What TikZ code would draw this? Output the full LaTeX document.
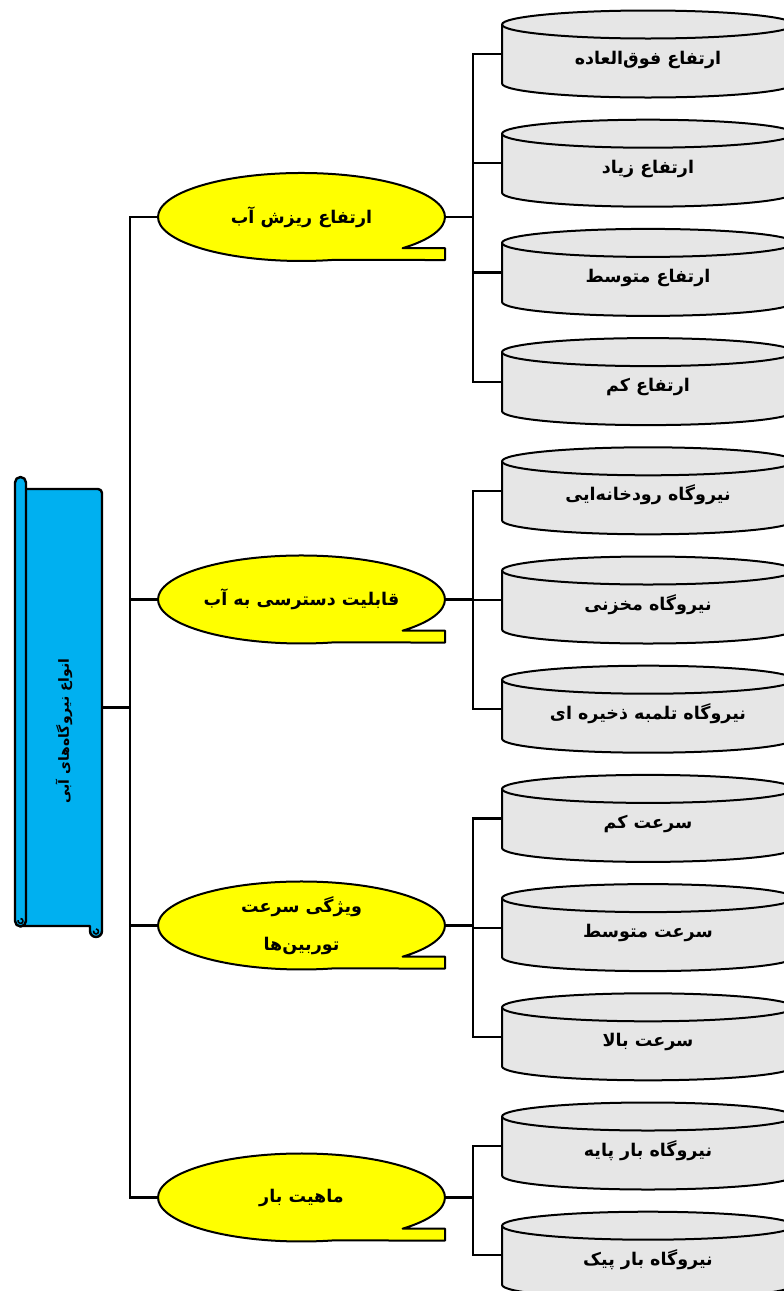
\documentclass[tikz,border=0pt]{standalone}
\usepackage{fontspec}
\newfontfamily\arabicfont[Script=Arabic]{DejaVu Sans}
\TeXXeTstate=1
\usetikzlibrary{shapes.geometric}
\definecolor{scrollblue}{HTML}{00B0F0}
\definecolor{cylgray}{HTML}{E6E6E6}
\definecolor{calloutyellow}{HTML}{FFFF00}

\tikzset{
  link/.style={draw=black, line width=2.2pt},
  outline/.style={draw=black, line width=2pt, line join=round},
  cyltext/.style={font=\arabicfont\bfseries\fontsize{17.5}{21}\selectfont,
    minimum width=292pt, minimum height=59pt, inner sep=0pt, outer sep=0pt},
  calltext/.style={shape=ellipse, font=\arabicfont\bfseries\fontsize{17.5}{21}\selectfont,
    minimum width=287pt, minimum height=88pt, inner sep=0pt, outer sep=0pt, align=center},
  roottext/.style={font=\arabicfont\bfseries\fontsize{14}{17}\selectfont, inner sep=0pt},
}

% cylinder: name, y of the top rim centre, label
\newcommand\cylinderbox[3]{%
  \pgfmathsetmacro\ct{#2}%
  \pgfmathsetmacro\cb{#2+59}%
  \pgfmathsetmacro\cm{#2+29.5}%
  \path[outline, fill=cylgray] (502,\ct) -- (502,\cb)
     arc[start angle=180, end angle=360, x radius=146pt, y radius=14pt]
     -- (794,\ct)
     arc[start angle=0, end angle=180, x radius=146pt, y radius=14pt] -- cycle;
  \draw[outline] (502,\ct) arc[start angle=180, end angle=360, x radius=146pt, y radius=14pt];
  \node[cyltext] (#1) at (648,\cm) {\raisebox{-10pt}[0pt][0pt]{#3}};
}

% oval callout with a flat tab at the lower right: name, centre y, label
\newcommand\calloutbox[3]{%
  \pgfmathsetmacro\ey{#2}%
  \path[outline, fill=calloutyellow] (445,\ey+43) -- (445,\ey+31.2) -- (402.6,\ey+31.2)
     arc[start angle=-45.2, end angle=282.3, x radius=143.5pt, y radius=44pt] -- cycle;
  \node[calltext] (#1) at (301.5,\ey) {#3};
}

\begin{document}
\begin{tikzpicture}[x=1pt, y=-1pt]
\clip (0,0) rectangle (784,1291);
\fill[white] (0,0) rectangle (784,1291);

% vertical scroll
\path[outline, line width=2.4pt, fill=scrollblue] (20,926) -- (20,489) -- (98,489)
   arc[start angle=90, end angle=0, radius=4pt] -- (102,931)
   arc[start angle=0, end angle=-180, radius=6pt] -- (90,926) -- cycle;
\draw[outline, line width=1.6pt] (96,929) arc[start angle=90, end angle=-200, radius=2.5pt];
\path[outline, line width=2.4pt, fill=scrollblue] (15,921) -- (15,482.5)
   arc[start angle=180, end angle=0, radius=5.5pt] -- (26,921)
   arc[start angle=0, end angle=-180, radius=5.5pt] -- cycle;
\draw[outline, line width=1.6pt] (20.5,918.5) arc[start angle=90, end angle=-200, radius=2.5pt];
\node[minimum width=76pt, minimum height=437pt, inner sep=0pt, outer sep=0pt] (scroll) at (64,707.5) {};
\node[roottext, rotate=90] (root) at (64,731) {\beginR انواع نیروگاه‌های آبی\endR};

% categories
\calloutbox{c1}{217}{\beginR ارتفاع ریزش آب\endR}
\calloutbox{c2}{599.5}{\beginR قابلیت دسترسی به آب\endR}
\calloutbox{c3}{925.5}{\beginR ویژگی سرعت\endR\\[17pt]\beginR توربین‌ها\endR}
\calloutbox{c4}{1197.5}{\beginR ماهیت بار\endR}

% types
\cylinderbox{k1}{24.5}{\beginR ارتفاع فوق‌العاده\endR}
\cylinderbox{k2}{133.7}{\beginR ارتفاع زیاد\endR}
\cylinderbox{k3}{242.9}{\beginR ارتفاع متوسط\endR}
\cylinderbox{k4}{352.1}{\beginR ارتفاع کم\endR}
\cylinderbox{k5}{461.3}{\beginR نیروگاه رودخانه‌ایی\endR}
\cylinderbox{k6}{570.5}{\beginR نیروگاه مخزنی\endR}
\cylinderbox{k7}{679.7}{\beginR نیروگاه تلمبه ذخیره ای\endR}
\cylinderbox{k8}{788.9}{\beginR سرعت کم\endR}
\cylinderbox{k9}{898.1}{\beginR سرعت متوسط\endR}
\cylinderbox{k10}{1007.3}{\beginR سرعت بالا\endR}
\cylinderbox{k11}{1116.5}{\beginR نیروگاه بار پایه\endR}
\cylinderbox{k12}{1225.7}{\beginR نیروگاه بار پیک\endR}

% connectors
\draw[link] (scroll.east) -- ++(28,0) coordinate (trunk);
\foreach \c in {c1,c2,c3,c4} \draw[link] (\c.west) -| (trunk);
\draw[link] (c1.east) -- ++(28,0) coordinate (j1);
\draw[link] (c2.east) -- ++(28,0) coordinate (j2);
\draw[link] (c3.east) -- ++(28,0) coordinate (j3);
\draw[link] (c4.east) -- ++(28,0) coordinate (j4);
\foreach \k in {k1,k2,k3,k4} \draw[link] (\k.west) -| (j1);
\foreach \k in {k5,k6,k7} \draw[link] (\k.west) -| (j2);
\foreach \k in {k8,k9,k10} \draw[link] (\k.west) -| (j3);
\foreach \k in {k11,k12} \draw[link] (\k.west) -| (j4);
\end{tikzpicture}
\end{document}
